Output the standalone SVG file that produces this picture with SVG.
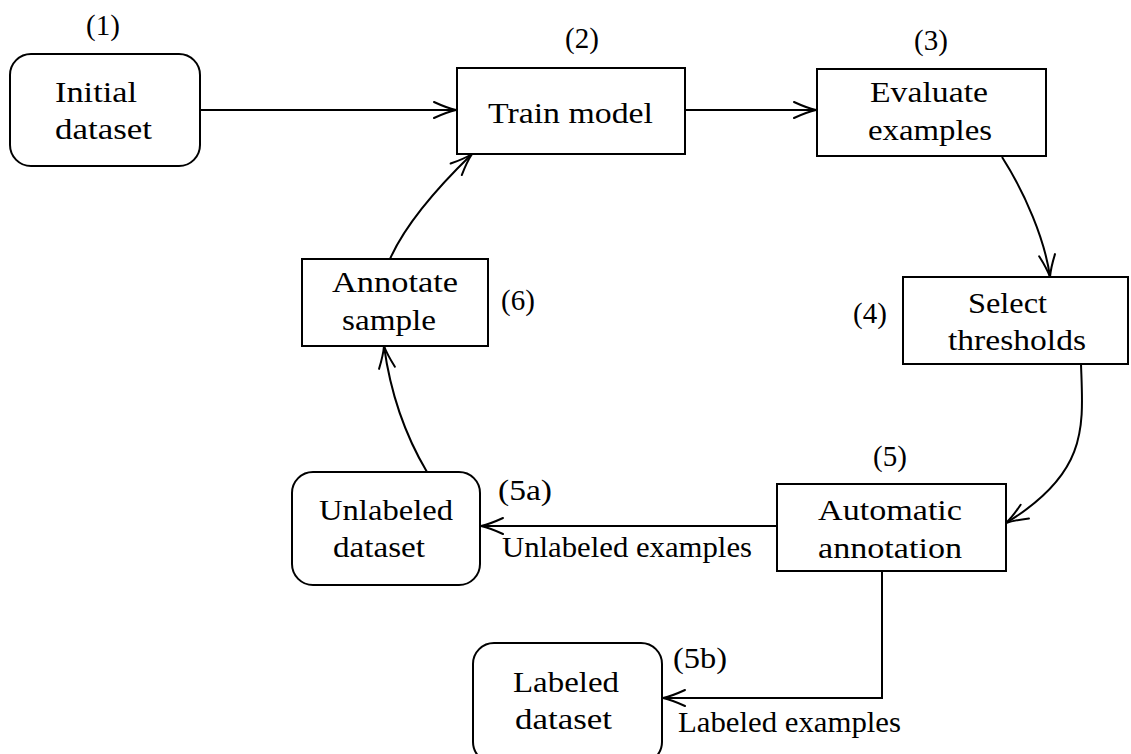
<svg xmlns="http://www.w3.org/2000/svg" width="1131" height="754" viewBox="0 0 1131 754">
<style>
.box{fill:#fff;stroke:#000;stroke-width:2}
.t{font-family:"Liberation Serif","DejaVu Serif","Times New Roman",serif;font-size:29px;fill:#000}
.c{stroke:#000;stroke-width:2;fill:none;marker-end:url(#arr)}
</style>
<defs>
<marker id="arr" markerUnits="userSpaceOnUse" markerWidth="30" markerHeight="24" viewBox="-26 -12 30 24" refX="0" refY="0" orient="auto" overflow="visible">
<path d="M -22 -8 Q -9 -2 0 0 Q -9 2 -22 8" fill="none" stroke="#000" stroke-width="2" stroke-linecap="round"/>
</marker>
</defs>
<rect width="1131" height="754" fill="#fff"/>
<g id="connectors">
<path class="c" d="M 200 110 L 456 110"/>
<path class="c" d="M 685 110 L 816 110"/>
<path class="c" d="M 1002 157 C 1025 193 1045 240 1050 277"/>
<path class="c" d="M 1081 364 C 1083 425 1090 472 1006 523"/>
<path class="c" d="M 777 526 L 481 526"/>
<path class="c" d="M 882 571 L 882 698 L 663 698"/>
<path class="c" d="M 427 472 C 405 435 390 390 384 346"/>
<path class="c" d="M 390 259 C 405 225 440 185 472 154"/>
</g>
<g id="n1">
<rect class="box" x="10" y="54" width="190" height="112" rx="21"/>
<text class="t" x="55" y="102" textLength="82" lengthAdjust="spacingAndGlyphs">Initial</text>
<text class="t" x="55" y="139" textLength="97" lengthAdjust="spacingAndGlyphs">dataset</text>
<text class="t" x="103" y="35" text-anchor="middle">(1)</text>
</g>
<g id="n2">
<rect class="box" x="457" y="68" width="228" height="86"/>
<text class="t" x="488" y="123" textLength="165" lengthAdjust="spacingAndGlyphs">Train model</text>
<text class="t" x="582" y="48" text-anchor="middle">(2)</text>
</g>
<g id="n3">
<rect class="box" x="817" y="69" width="229" height="87"/>
<text class="t" x="870" y="102" textLength="118" lengthAdjust="spacingAndGlyphs">Evaluate</text>
<text class="t" x="868" y="140" textLength="124" lengthAdjust="spacingAndGlyphs">examples</text>
<text class="t" x="931" y="50" text-anchor="middle">(3)</text>
</g>
<g id="n4">
<rect class="box" x="903" y="277" width="225" height="87"/>
<text class="t" x="968" y="313" textLength="79" lengthAdjust="spacingAndGlyphs">Select</text>
<text class="t" x="948" y="350" textLength="138" lengthAdjust="spacingAndGlyphs">thresholds</text>
<text class="t" x="870" y="323" text-anchor="middle">(4)</text>
</g>
<g id="n5">
<rect class="box" x="777" y="484" width="229" height="87"/>
<text class="t" x="818" y="520" textLength="144" lengthAdjust="spacingAndGlyphs">Automatic</text>
<text class="t" x="818" y="558" textLength="144" lengthAdjust="spacingAndGlyphs">annotation</text>
<text class="t" x="890" y="466" text-anchor="middle">(5)</text>
</g>
<g id="n6">
<rect class="box" x="302" y="259" width="186" height="87"/>
<text class="t" x="332" y="292" textLength="126" lengthAdjust="spacingAndGlyphs">Annotate</text>
<text class="t" x="342" y="330" textLength="94" lengthAdjust="spacingAndGlyphs">sample</text>
<text class="t" x="518" y="310" text-anchor="middle">(6)</text>
</g>
<g id="n5a">
<rect class="box" x="292" y="472" width="188" height="113" rx="21"/>
<text class="t" x="319" y="520" textLength="134" lengthAdjust="spacingAndGlyphs">Unlabeled</text>
<text class="t" x="333" y="557" textLength="92" lengthAdjust="spacingAndGlyphs">dataset</text>
<text class="t" x="498" y="500" textLength="54" lengthAdjust="spacingAndGlyphs">(5a)</text>
<text class="t" x="502" y="557" textLength="250" lengthAdjust="spacingAndGlyphs">Unlabeled examples</text>
</g>
<g id="n5b">
<rect class="box" x="473" y="643" width="189" height="120" rx="21"/>
<text class="t" x="513" y="692" textLength="106" lengthAdjust="spacingAndGlyphs">Labeled</text>
<text class="t" x="515" y="729" textLength="97" lengthAdjust="spacingAndGlyphs">dataset</text>
<text class="t" x="673" y="668" textLength="54" lengthAdjust="spacingAndGlyphs">(5b)</text>
<text class="t" x="678" y="732" textLength="223" lengthAdjust="spacingAndGlyphs">Labeled examples</text>
</g>
</svg>
